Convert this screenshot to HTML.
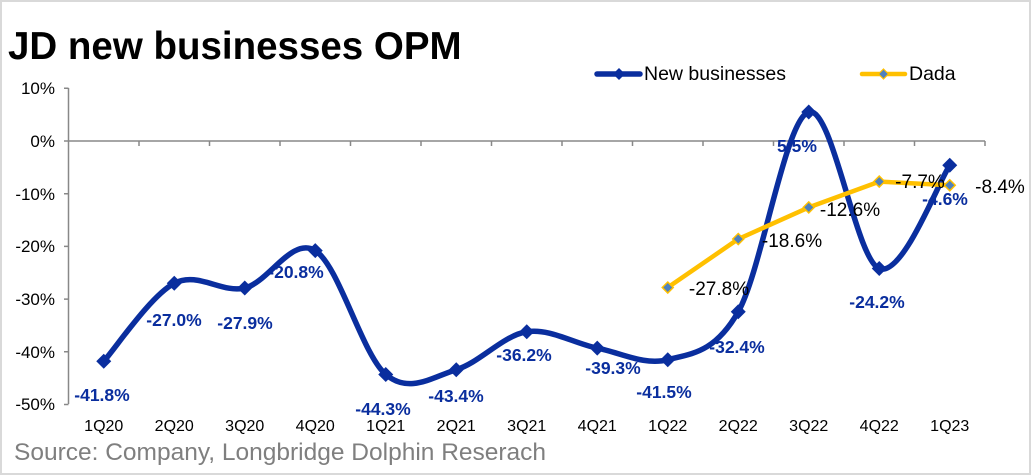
<!DOCTYPE html>
<html><head><meta charset="utf-8"><style>
html,body{margin:0;padding:0;background:#fff;}
#c{position:relative;width:1031px;height:475px;overflow:hidden;font-family:"Liberation Sans",sans-serif;}
</style></head><body><div id="c">
<svg width="1031" height="475" xmlns="http://www.w3.org/2000/svg" font-family="Liberation Sans, sans-serif">
<rect x="1" y="1" width="1029" height="473" fill="#fff" stroke="#d9d9d9" stroke-width="2"/>
<text x="8" y="59" font-size="38.5" font-weight="bold" fill="#000">JD new businesses OPM</text>
<g font-size="17" fill="#000" text-anchor="end">
<text x="55" y="94">10%</text><text x="55" y="147">0%</text><text x="55" y="200">-10%</text>
<text x="55" y="252">-20%</text><text x="55" y="305">-30%</text><text x="55" y="358">-40%</text><text x="55" y="410">-50%</text>
</g>
<g stroke="#888" stroke-width="1.5" fill="none">
<line x1="68.5" y1="88" x2="68.5" y2="404"/>
<path d="M64 88.3H68.5M64 141H68.5M64 193.7H68.5M64 246.4H68.5M64 299.1H68.5M64 351.8H68.5M64 404.5H68.5"/>
<line x1="68.5" y1="141" x2="985" y2="141"/>
<path id="tk"/>
</g>
<g id="xl" font-size="16" fill="#000" text-anchor="middle"></g>
<path id="nb" fill="none" stroke="#0A2E9E" stroke-width="5.5" stroke-linejoin="round"/>
<g id="nbm" fill="#0A2E9E"></g>
<polyline id="dd" fill="none" stroke="#FFC000" stroke-width="4.5" stroke-linejoin="round"/>
<g id="ddm" fill="#4F81BD" stroke="#FFC000" stroke-width="1.5"></g>
<g font-size="17.5" font-weight="bold" fill="#0A2E9E" text-anchor="middle">
<text x="102" y="401">-41.8%</text><text x="174" y="326">-27.0%</text><text x="245" y="329">-27.9%</text>
<text x="296" y="278">-20.8%</text><text x="383" y="415">-44.3%</text><text x="456" y="402">-43.4%</text>
<text x="524" y="361">-36.2%</text><text x="613" y="374">-39.3%</text><text x="664" y="398">-41.5%</text>
<text x="737" y="353">-32.4%</text><text x="797" y="152">5.5%</text><text x="877" y="308">-24.2%</text>
<text x="945" y="205">-4.6%</text>
</g>
<g font-size="19" fill="#000" text-anchor="middle">
<text x="719" y="295">-27.8%</text><text x="792" y="247">-18.6%</text><text x="850" y="216">-12.6%</text>
<text x="920" y="188">-7.7%</text><text x="1000" y="193">-8.4%</text>
</g>
<line x1="597" y1="74" x2="640" y2="74" stroke="#0A2E9E" stroke-width="5.5" stroke-linecap="round"/>
<path d="M619 68L625 74L619 80L613 74Z" fill="#0A2E9E"/>
<text x="644" y="80" font-size="19.5" fill="#000">New businesses</text>
<line x1="862" y1="74" x2="905" y2="74" stroke="#FFC000" stroke-width="4.5" stroke-linecap="round"/>
<path d="M883.5 69L888.5 74L883.5 79L878.5 74Z" fill="#4F81BD" stroke="#FFC000" stroke-width="1.2"/>
<text x="909" y="80" font-size="19.5" fill="#000">Dada</text>
<text x="14" y="460" font-size="24.5" fill="#7f7f7f">Source: Company, Longbridge Dolphin Reserach</text>
</svg>
<script>
var L=68.5,W=70.5,Z=141,S=5.27,ns="http://www.w3.org/2000/svg";
function X(i){return L+W/2+W*i}function Y(v){return Z-v*S}
var cats=["1Q20","2Q20","3Q20","4Q20","1Q21","2Q21","3Q21","4Q21","1Q22","2Q22","3Q22","4Q22","1Q23"];
var nb=[-41.8,-27.0,-27.9,-20.8,-44.3,-43.4,-36.2,-39.3,-41.5,-32.4,5.5,-24.2,-4.6];
var dd=[-27.8,-18.6,-12.6,-7.7,-8.4];
var t="";for(var k=1;k<=13;k++){var x=L+W*k;t+="M"+x+" 141V146"}
document.getElementById("tk").setAttribute("d",t);
var xl=document.getElementById("xl");
cats.forEach(function(c,i){var e=document.createElementNS(ns,"text");e.setAttribute("x",X(i));e.setAttribute("y",431);e.textContent=c;xl.appendChild(e)});
var p=nb.map(function(v,i){return[X(i),Y(v)]});
var d="M"+p[0][0]+" "+p[0][1];
for(var i=0;i<p.length-1;i++){var a=p[Math.max(i-1,0)],b=p[i],c=p[i+1],e=p[Math.min(i+2,p.length-1)];
d+="C"+(b[0]+(c[0]-a[0])/6)+" "+(b[1]+(c[1]-a[1])/6)+" "+(c[0]-(e[0]-b[0])/6)+" "+(c[1]-(e[1]-b[1])/6)+" "+c[0]+" "+c[1];}
document.getElementById("nb").setAttribute("d",d);
var g=document.getElementById("nbm");
p.forEach(function(q){var m=document.createElementNS(ns,"path");var r=7.5;m.setAttribute("d","M"+q[0]+" "+(q[1]-r)+"L"+(q[0]+r)+" "+q[1]+"L"+q[0]+" "+(q[1]+r)+"L"+(q[0]-r)+" "+q[1]+"Z");g.appendChild(m)});
var dp=dd.map(function(v,i){return[X(i+8),Y(v)]});
document.getElementById("dd").setAttribute("points",dp.map(function(q){return q.join(",")}).join(" "));
var g2=document.getElementById("ddm");
dp.forEach(function(q){var m=document.createElementNS(ns,"path");var r=5.5;m.setAttribute("d","M"+q[0]+" "+(q[1]-r)+"L"+(q[0]+r)+" "+q[1]+"L"+q[0]+" "+(q[1]+r)+"L"+(q[0]-r)+" "+q[1]+"Z");g2.appendChild(m)});
</script>
</div></body></html>
